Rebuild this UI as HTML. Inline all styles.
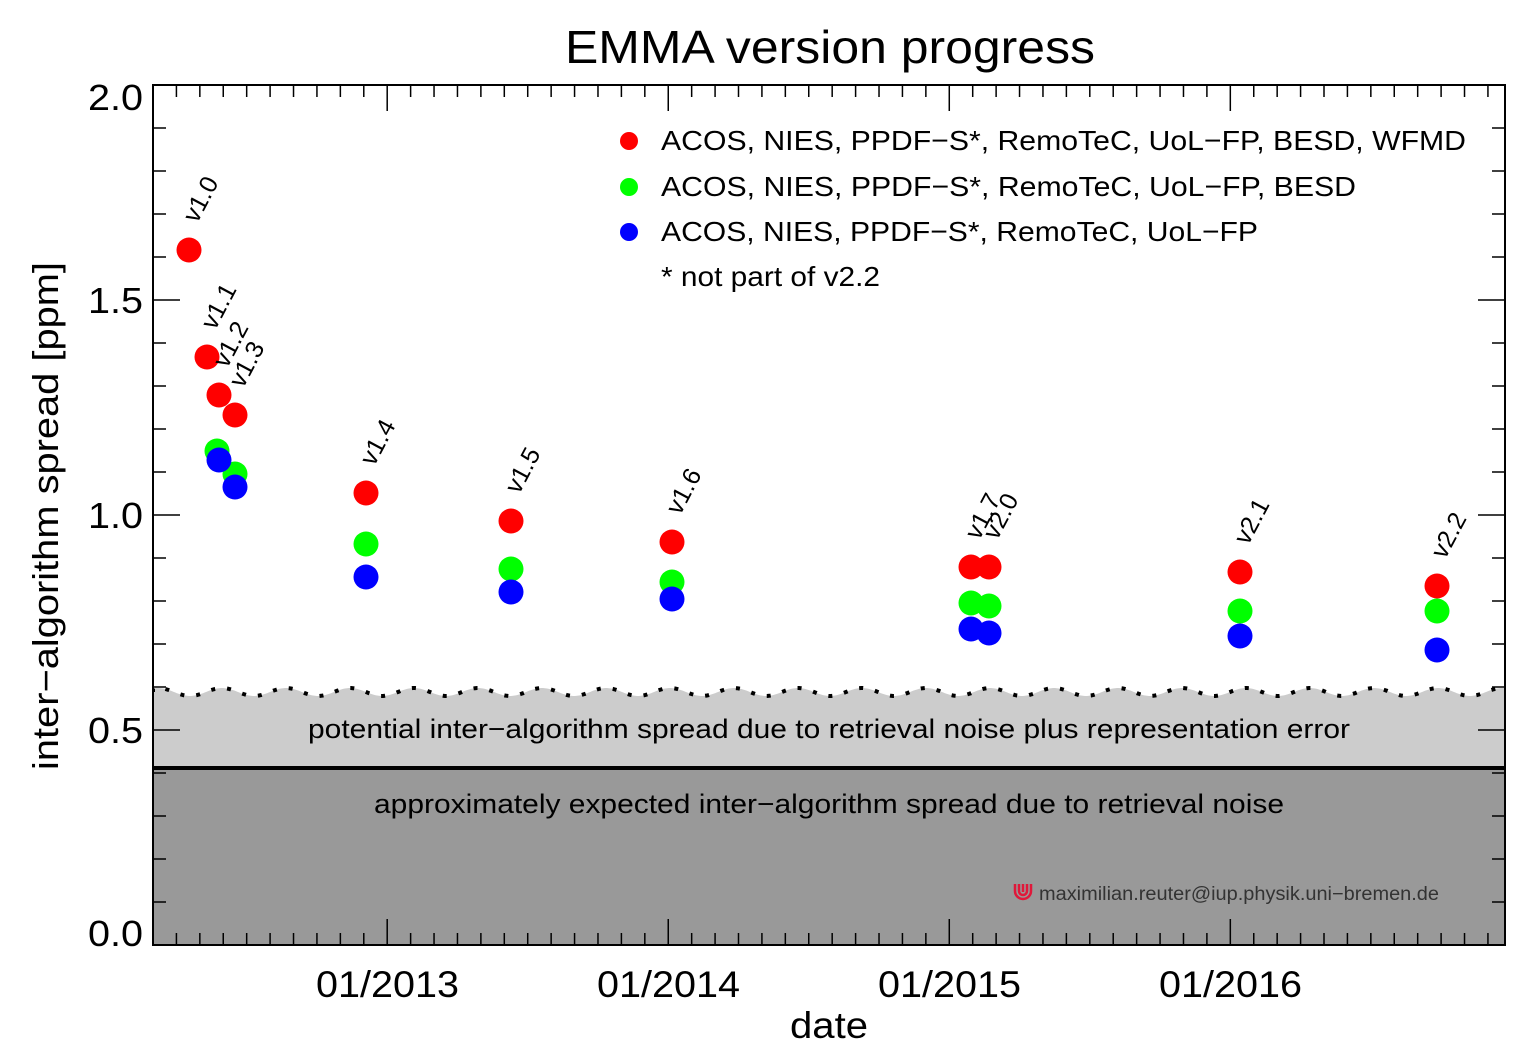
<!DOCTYPE html>
<html><head><meta charset="utf-8"><style>
html,body{margin:0;padding:0;background:#fff;}
svg{display:block;font-family:"Liberation Sans",sans-serif;}
</style></head><body>
<svg id="s" width="1533" height="1063" viewBox="0 0 1533 1063" xmlns="http://www.w3.org/2000/svg">
<defs><clipPath id="c"><rect x="153" y="85" width="1352" height="860"/></clipPath></defs>
<g clip-path="url(#c)">
<path id="wave" fill="#cccccc" d=""/>
<rect x="153" y="768" width="1352" height="177" fill="#999999"/>
<line x1="153" y1="768" x2="1505" y2="768" stroke="#000" stroke-width="4"/>
<path id="wavel" fill="none" stroke="#000" stroke-width="4" stroke-dasharray="4 12" d=""/>
</g>
<g id="ticks" stroke="#000" stroke-width="1.5"></g>
<rect x="153" y="85" width="1352" height="860" fill="none" stroke="#000" stroke-width="2"/>
<text x="565" y="63" font-size="46" textLength="530" lengthAdjust="spacingAndGlyphs">EMMA version progress</text>
<g font-size="36" text-anchor="end">
<text x="143" y="110" textLength="55" lengthAdjust="spacingAndGlyphs">2.0</text><text x="143" y="313" textLength="55" lengthAdjust="spacingAndGlyphs">1.5</text><text x="143" y="528" textLength="55" lengthAdjust="spacingAndGlyphs">1.0</text><text x="143" y="743" textLength="55" lengthAdjust="spacingAndGlyphs">0.5</text><text x="143" y="946" textLength="55" lengthAdjust="spacingAndGlyphs">0.0</text>
</g>
<g font-size="37">
<text x="316" y="997" textLength="143" lengthAdjust="spacingAndGlyphs">01/2013</text><text x="597" y="997" textLength="143" lengthAdjust="spacingAndGlyphs">01/2014</text><text x="878" y="997" textLength="143" lengthAdjust="spacingAndGlyphs">01/2015</text><text x="1159" y="997" textLength="143" lengthAdjust="spacingAndGlyphs">01/2016</text>
<text x="790" y="1038" textLength="78" lengthAdjust="spacingAndGlyphs">date</text>
</g>
<text transform="translate(58,770) rotate(-90)" font-size="36" textLength="508" lengthAdjust="spacingAndGlyphs">inter−algorithm spread [ppm]</text>
<text x="308" y="738" font-size="27" textLength="1042" lengthAdjust="spacingAndGlyphs">potential inter−algorithm spread due to retrieval noise plus representation error</text>
<text x="374" y="813" font-size="27" textLength="910" lengthAdjust="spacingAndGlyphs">approximately expected inter−algorithm spread due to retrieval noise</text>
<g fill="none" stroke="#e0183a" stroke-width="2.5"><path d="M1015 884 v7 a8 8 0 0 0 16 0 v-7"/><path d="M1019 884 v7 a4 4 0 0 0 8 0 v-7"/><path d="M1023 884 v8"/></g>
<text x="1039" y="900" font-size="19" fill="#333" textLength="400" lengthAdjust="spacingAndGlyphs">maximilian.reuter@iup.physik.uni−bremen.de</text>
<g font-size="28">
<circle cx="629" cy="141" r="9" fill="#f00"/><text x="661" y="150" textLength="805" lengthAdjust="spacingAndGlyphs">ACOS, NIES, PPDF−S*, RemoTeC, UoL−FP, BESD, WFMD</text>
<circle cx="629" cy="187" r="9" fill="#0f0"/><text x="661" y="196" textLength="695" lengthAdjust="spacingAndGlyphs">ACOS, NIES, PPDF−S*, RemoTeC, UoL−FP, BESD</text>
<circle cx="629" cy="232" r="9" fill="#00f"/><text x="661" y="241" textLength="597" lengthAdjust="spacingAndGlyphs">ACOS, NIES, PPDF−S*, RemoTeC, UoL−FP</text>
<text x="661" y="286" textLength="219" lengthAdjust="spacingAndGlyphs">* not part of v2.2</text>
</g>
<g id="pts"></g>
</svg>
<script>
var NS="http://www.w3.org/2000/svg";
function el(p,t,a,txt){var e=document.createElementNS(NS,t);for(var k in a)e.setAttribute(k,a[k]);if(txt)e.textContent=txt;p.appendChild(e);return e;}
var d="M153 945 L153 692",dl="M153 692";
for(var x=153;x<=1505;x+=2){var y=692-4*Math.cos((x-158)/64*2*Math.PI);d+=" L"+x+" "+y.toFixed(1);dl+=" L"+x+" "+y.toFixed(1);}
d+=" L1505 945 Z";
document.getElementById("wave").setAttribute("d",d);
document.getElementById("wavel").setAttribute("d",dl);
var T=document.getElementById("ticks");
for(var i=0;i<=58;i++){var x=153+i*23.42;if(x>1505)break;var major=(i%12==10);var L=major?26:12;
el(T,"line",{x1:x,y1:85,x2:x,y2:85+L});el(T,"line",{x1:x,y1:945,x2:x,y2:945-L});}
for(var i=0;i<=20;i++){var y=945-i*43;var major=(i%5==0);var L=major?27:13;
el(T,"line",{x1:153,y1:y,x2:153+L,y2:y});el(T,"line",{x1:1505,y1:y,x2:1505-L,y2:y});}
var P=document.getElementById("pts");
var data=[
["v1.0",189,250,null,null],
["v1.1",207,357,null,null],
["v1.2",219,395,451,460],
["v1.3",235,415,474,487],
["v1.4",366,493,544,577],
["v1.5",511,521,569,592],
["v1.6",672,542,582,599],
["v1.7",971,567,603,629],
["v2.0",989,567,606,633],
["v2.1",1240,572,611,636],
["v2.2",1437,586,611,650]];
data.forEach(function(r){var x=r[0]=="v1.2"?217:r[1];
 if(r[3]!=null)el(P,"circle",{cx:x,cy:r[3],r:12.5,fill:"#0f0"});});
data.forEach(function(r){if(r[4]!=null)el(P,"circle",{cx:r[1],cy:r[4],r:12.5,fill:"#00f"});});
data.forEach(function(r){el(P,"circle",{cx:r[1],cy:r[2],r:12.5,fill:"#f00"});
 var tx=r[1]-1,ty=r[2]-26;
 el(P,"text",{x:0,y:0,"font-size":25,transform:"translate("+(tx+9)+","+ty+") rotate(-62)"},r[0]);});
</script>
</body></html>
